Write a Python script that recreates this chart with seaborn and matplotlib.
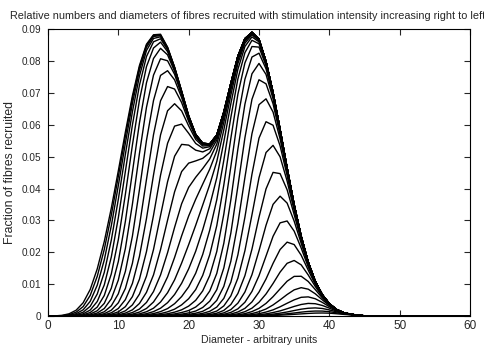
## Fibre recruitment curves - nested bimodal diameter distributions
import numpy as np
import pandas as pd
import matplotlib
matplotlib.use("Agg")
import matplotlib.pyplot as plt
import seaborn as sns

# diameter grid (arbitrary units)
diameter = list(range(0, 61))

envelope = [0.0005, 0.0009, 0.0017, 0.0031, 0.0052, 0.0084, 0.0130, 0.0194, 0.0274, 0.0371,
            0.0480, 0.0594, 0.0702, 0.0793, 0.0857, 0.0885, 0.0884, 0.0843, 0.0780, 0.0705,
            0.0628, 0.0570, 0.0542, 0.0540, 0.0568, 0.0640, 0.0730, 0.0815, 0.0870, 0.0890,
            0.0868, 0.0798, 0.0701, 0.0585, 0.0464, 0.0349, 0.0250, 0.0169, 0.0109, 0.0067,
            0.0039, 0.0021, 0.0011, 0.0006, 0.0003, 0.0001] + [0.0] * 15

# diameter at which half the fibres are recruited, one per stimulus step
thresholds = list(range(5, 43))

# fraction of fibres recruited vs. offset from the threshold (offsets -10..10)
ramp = [0.0028, 0.0050, 0.0089, 0.016, 0.028, 0.050, 0.087, 0.146, 0.236, 0.357, 0.5,
        0.643, 0.764, 0.854, 0.913, 0.950, 0.972, 0.984, 0.991, 0.995, 0.997]

rows = []
for k, t in enumerate(thresholds):
    for i, d in enumerate(diameter):
        off = d - t
        if off < -10:
            frac = 0.0
        elif off > 10:
            frac = 1.0
        else:
            frac = ramp[off + 10]
        rows.append((k, d, envelope[i] * frac))
curves = pd.DataFrame(rows, columns=["curve", "diameter", "fraction"])

sns.set_style("ticks")
plt.rcParams["font.family"] = ["Liberation Sans", "DejaVu Sans"]

fig = plt.figure(figsize=(4.85, 3.47), dpi=100)
ax = fig.add_axes([0.099, 0.089, 0.870, 0.827])
sns.lineplot(data=curves, x="diameter", y="fraction", units="curve", estimator=None,
             color="black", lw=1.0, ax=ax, legend=False)

ax.set_xlim(0, 60)
ax.set_ylim(0, 0.09)
ax.set_xticks(range(0, 61, 10))
ax.set_yticks(np.arange(0, 0.091, 0.01))
ax.set_yticklabels(["0", "0.01", "0.02", "0.03", "0.04", "0.05", "0.06", "0.07", "0.08", "0.09"])
ax.tick_params(direction="in", length=4, width=0.8, top=True, right=True)
ax.tick_params(axis="x", pad=3, labelsize=8.5)
ax.tick_params(axis="y", pad=5, labelsize=7.2)
for s in ax.spines.values():
    s.set_visible(True)
    s.set_linewidth(0.8)
    s.set_color("black")

ax.set_xlabel("Diameter - arbitrary units", fontsize=7.6, labelpad=2)
ax.set_ylabel("Fraction of fibres recruited", fontsize=8.8)
ax.yaxis.set_label_coords(-0.076, 0.5)
ax.set_title("Relative numbers and diameters of fibres recruited with stimulation intensity increasing right to left",
             fontsize=7.8, pad=7, x=0.472)

fig.savefig("out.png", dpi=100)
